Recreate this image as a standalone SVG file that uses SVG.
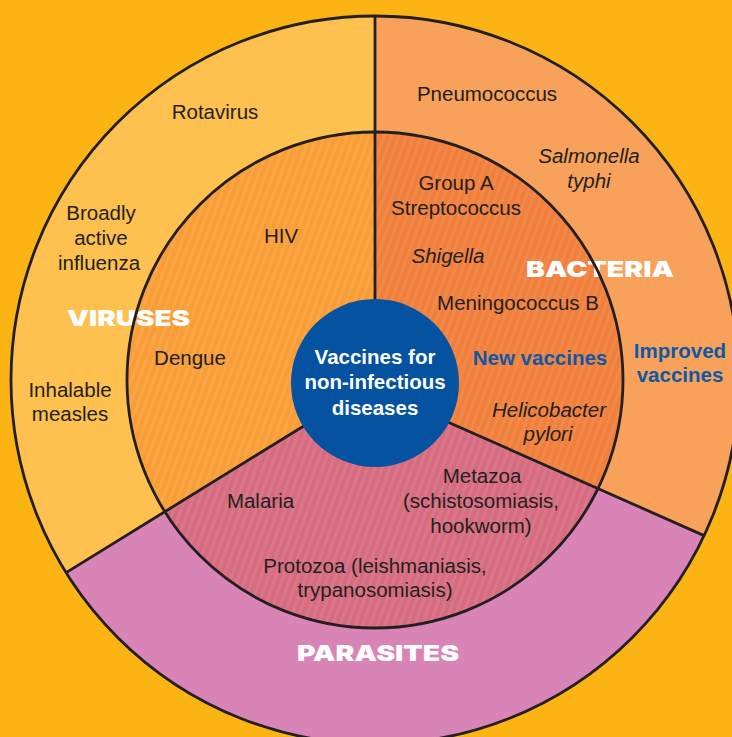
<svg xmlns="http://www.w3.org/2000/svg" width="732" height="737" viewBox="0 0 732 737">
  <defs>
    <pattern id="stripeV" width="7" height="7" patternUnits="userSpaceOnUse" patternTransform="rotate(20)">
      <rect width="7" height="7" fill="#F99D36"/>
      <line x1="1.5" y1="0" x2="1.5" y2="7" stroke="#FFFFFF" stroke-opacity="0.09" stroke-width="2.5"/>
    </pattern>
    <pattern id="stripeB" width="7" height="7" patternUnits="userSpaceOnUse" patternTransform="rotate(20)">
      <rect width="7" height="7" fill="#F1803D"/>
      <line x1="1.5" y1="0" x2="1.5" y2="7" stroke="#FFFFFF" stroke-opacity="0.08" stroke-width="2.5"/>
    </pattern>
    <pattern id="stripeP" width="7" height="7" patternUnits="userSpaceOnUse" patternTransform="rotate(20)">
      <rect width="7" height="7" fill="#D76C81"/>
      <line x1="1.5" y1="0" x2="1.5" y2="7" stroke="#FFFFFF" stroke-opacity="0.08" stroke-width="2.5"/>
    </pattern>
  </defs>
  <style>
    .t { font-family: "Liberation Sans", Arial, sans-serif; font-size: 20.5px; fill: #231F20; text-anchor: middle; }
    .i { font-style: italic; }
    .blue { font-family: "Liberation Sans", Arial, sans-serif; font-size: 20.5px; font-weight: bold; fill: #0E58A6; text-anchor: middle; }
    .cat { font-family: Inter, Lato, "Liberation Sans", sans-serif; font-size: 22px; font-weight: 900; fill: #FFFFFF; text-anchor: middle; }
    .ctr { font-family: "Liberation Sans", Arial, sans-serif; font-size: 20.5px; font-weight: bold; fill: #FFFFFF; text-anchor: middle; }
    .edge { fill: none; stroke: #231F20; stroke-width: 2.8; }
  </style>

  <rect x="0" y="0" width="732" height="737" fill="#FCB415"/>

  <g id="viruses">
    <path d="M375,16 A364,364 0 0 0 66.1,572.6 L164.6,511.2 A248,248 0 0 1 375,132 Z" fill="#FEC04F"/>
    <path d="M375,132 A248,248 0 0 0 164.6,511.2 L302,427 L375,383 Z" fill="url(#stripeV)"/>
    <text class="t" x="215" y="119">Rotavirus</text>
    <text class="t" x="101" y="220">Broadly</text>
    <text class="t" x="101" y="245">active</text>
    <text class="t" x="99" y="270">influenza</text>
    <text class="cat" x="128.5" y="326" textLength="123" lengthAdjust="spacingAndGlyphs">VIRUSES</text>
    <text class="t" x="70" y="397">Inhalable</text>
    <text class="t" x="70" y="421">measles</text>
    <text class="t" x="281" y="243">HIV</text>
    <text class="t" x="190" y="365">Dengue</text>
  </g>

  <g id="bacteria">
    <path d="M375,16 A364,364 0 0 1 704.1,535.6 L598,488.6 A248,248 0 0 0 375,132 Z" fill="#F7A15B"/>
    <path d="M375,132 A248,248 0 0 1 598,488.6 L450,423 L375,383 Z" fill="url(#stripeB)"/>
    <text class="t" x="487" y="101">Pneumococcus</text>
    <text class="t i" x="589" y="163">Salmonella</text>
    <text class="t i" x="589" y="188">typhi</text>
    <text class="t" x="456" y="190">Group A</text>
    <text class="t" x="456" y="215">Streptococcus</text>
    <text class="t i" x="448" y="263">Shigella</text>
    <text class="cat" x="600" y="277" textLength="148" lengthAdjust="spacingAndGlyphs">BACTERIA</text>
    <text class="t" x="518" y="310">Meningococcus B</text>
    <text class="blue" x="540" y="365">New vaccines</text>
    <text class="blue" x="680" y="358">Improved</text>
    <text class="blue" x="680" y="382">vaccines</text>
    <text class="t i" x="549" y="417">Helicobacter</text>
    <text class="t i" x="548" y="441">pylori</text>
  </g>

  <g id="parasites">
    <path d="M704.1,535.6 A364,364 0 0 1 66.1,572.6 L164.6,511.2 A248,248 0 0 0 598,488.6 Z" fill="#D984B6"/>
    <path d="M598,488.6 A248,248 0 0 1 164.6,511.2 L302,427 L375,383 L450,423 Z" fill="url(#stripeP)"/>
    <text class="t" x="482" y="483">Metazoa</text>
    <text class="t" x="481" y="508">(schistosomiasis,</text>
    <text class="t" x="481" y="533">hookworm)</text>
    <text class="t" x="260.5" y="508">Malaria</text>
    <text class="t" x="375" y="573">Protozoa (leishmaniasis,</text>
    <text class="t" x="375" y="597">trypanosomiasis)</text>
    <text class="cat" x="378" y="661" textLength="162" lengthAdjust="spacingAndGlyphs">PARASITES</text>
  </g>

  <g id="connectors">
    <circle class="edge" cx="375" cy="380" r="364"/>
    <circle class="edge" cx="375" cy="380" r="248"/>
    <line class="edge" x1="375" y1="16" x2="375" y2="305"/>
    <line class="edge" x1="305" y1="425.2" x2="66.1" y2="572.6"/>
    <line class="edge" x1="446" y1="421.2" x2="704.1" y2="535.6"/>
  </g>

  <g id="center">
    <circle cx="375" cy="383" r="84" fill="#0452A0"/>
    <text class="ctr" x="375" y="364">Vaccines for</text>
    <text class="ctr" x="375" y="389">non-infectious</text>
    <text class="ctr" x="375" y="415">diseases</text>
  </g>
</svg>
